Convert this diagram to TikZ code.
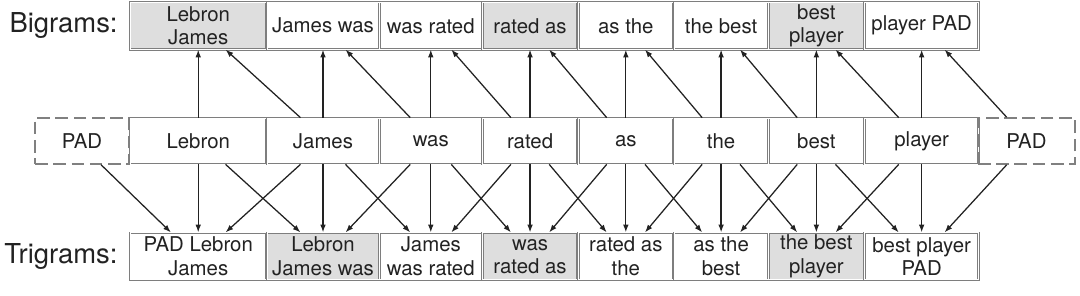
\documentclass[tikz,border=0pt]{standalone}
\usepackage{fontspec}
\setmainfont{TeX Gyre Heros}
\usepackage{tikz}
\usetikzlibrary{arrows.meta,calc,positioning}
\definecolor{ink}{HTML}{222222}
\definecolor{rim}{HTML}{7E7E7E}
\definecolor{shade}{HTML}{DEDEDE}
\definecolor{padrim}{HTML}{808080}
\tikzset{
  gramlabel/.style={font=\fontsize{19.5}{22}\selectfont, text=ink, inner sep=0pt},
  wordbox/.style={
    draw=rim,
    double=white,
    double distance=0.7pt,
    line width=0.55pt,
    fill=white,
    minimum height=1.15cm,
    inner sep=1pt,
    align=center,
    text=ink,
    font=\fontsize{14.5}{16.5}\selectfont
  },
  grambox/.style={wordbox, minimum height=1.175cm},
  hitbox/.style={grambox, fill=shade},
  padbox/.style={
    draw=padrim,
    dash pattern=on 9pt off 4pt,
    line width=1.2pt,
    minimum height=1.15cm,
    inner sep=1pt,
    text=ink,
    font=\fontsize{14.5}{16.5}\selectfont
  },
  link/.style={-{Latex[length=5.5pt,width=4pt]}, line width=0.9pt, draw=ink}
}

\begin{document}
\begin{tikzpicture}
  \useasboundingbox (0,0) rectangle (27,-7.375);

  % middle row: the sentence with padding
  \node[padbox, minimum width=2.35cm] (m0) at (2.05,-3.525) {PAD};
  \node[wordbox, right=0pt of m0, minimum width=3.4cm] (m1) {Lebron};
  \node[wordbox, right=0pt of m1, minimum width=2.8cm] (m2) {James};
  \node[wordbox, right=0pt of m2, minimum width=2.55cm] (m3) {was};
  \node[wordbox, right=0pt of m3, minimum width=2.375cm] (m4) {rated};
  \node[wordbox, right=0pt of m4, minimum width=2.375cm] (m5) {as};
  \node[wordbox, right=0pt of m5, minimum width=2.35cm] (m6) {the};
  \node[wordbox, right=0pt of m6, minimum width=2.375cm] (m7) {best};
  \node[wordbox, right=0pt of m7, minimum width=2.85cm] (m8) {player};
  \node[padbox, right=-0.05cm of m8, minimum width=2.425cm] (m9) {PAD};

  % bigrams
  \node[hitbox, above=1.7cm of m1, minimum width=3.4cm] (b1) {Lebron\\James};
  \node[grambox, above=1.7cm of m2, minimum width=2.8cm] (b2) {James was};
  \node[grambox, above=1.7cm of m3, minimum width=2.55cm] (b3) {was rated};
  \node[hitbox, above=1.7cm of m4, minimum width=2.375cm] (b4) {rated as};
  \node[grambox, above=1.7cm of m5, minimum width=2.375cm] (b5) {as the};
  \node[grambox, above=1.7cm of m6, minimum width=2.35cm] (b6) {the best};
  \node[hitbox, above=1.7cm of m7, minimum width=2.375cm] (b7) {best\\player};
  \node[grambox, above=1.7cm of m8, minimum width=2.85cm] (b8) {player PAD};

  % trigrams
  \node[grambox, below=1.7cm of m1, minimum width=3.4cm] (t1) {PAD Lebron\\James};
  \node[hitbox, below=1.7cm of m2, minimum width=2.8cm] (t2) {Lebron\\James was};
  \node[grambox, below=1.7cm of m3, minimum width=2.55cm] (t3) {James\\was rated};
  \node[hitbox, below=1.7cm of m4, minimum width=2.375cm] (t4) {was\\rated as};
  \node[grambox, below=1.7cm of m5, minimum width=2.375cm] (t5) {rated as\\the};
  \node[grambox, below=1.7cm of m6, minimum width=2.35cm] (t6) {as the\\best};
  \node[hitbox, below=1.7cm of m7, minimum width=2.375cm] (t7) {the best\\player};
  \node[grambox, below=1.7cm of m8, minimum width=2.85cm] (t8) {best player\\PAD};

  \node[gramlabel, left=0.3cm of b1] (biglabel) {Bigrams:};
  \node[gramlabel, left=0.3cm of t1] (trilabel) {Trigrams:};

  % words up to bigrams
  \draw[link] (m1.north) -- (b1.south);
  \draw[link] (m2.north) -- (b2.south);
  \draw[link] (m3.north) -- (b3.south);
  \draw[link] (m4.north) -- (b4.south);
  \draw[link] (m5.north) -- (b5.south);
  \draw[link] (m6.north) -- (b6.south);
  \draw[link] (m7.north) -- (b7.south);
  \draw[link] (m8.north) -- (b8.south);

  \draw[link] ($(m2.north)!0.4!(m2.north west)$) -- ($(b1.south)!0.4!(b1.south east)$);
  \draw[link] ($(m3.north)!0.4!(m3.north west)$) -- ($(b2.south)!0.4!(b2.south east)$);
  \draw[link] ($(m4.north)!0.4!(m4.north west)$) -- ($(b3.south)!0.4!(b3.south east)$);
  \draw[link] ($(m5.north)!0.4!(m5.north west)$) -- ($(b4.south)!0.4!(b4.south east)$);
  \draw[link] ($(m6.north)!0.4!(m6.north west)$) -- ($(b5.south)!0.4!(b5.south east)$);
  \draw[link] ($(m7.north)!0.4!(m7.north west)$) -- ($(b6.south)!0.4!(b6.south east)$);
  \draw[link] ($(m8.north)!0.4!(m8.north west)$) -- ($(b7.south)!0.4!(b7.south east)$);
  \draw[link] ($(m9.north)!0.4!(m9.north west)$) -- ($(b8.south)!0.4!(b8.south east)$);

  % words down to trigrams
  \draw[link] (m1.south) -- (t1.north);
  \draw[link] (m2.south) -- (t2.north);
  \draw[link] (m3.south) -- (t3.north);
  \draw[link] (m4.south) -- (t4.north);
  \draw[link] (m5.south) -- (t5.north);
  \draw[link] (m6.south) -- (t6.north);
  \draw[link] (m7.south) -- (t7.north);
  \draw[link] (m8.south) -- (t8.north);

  \draw[link] ($(m0.south)!0.4!(m0.south east)$) -- ($(t1.north)!0.4!(t1.north west)$);
  \draw[link] ($(m1.south)!0.4!(m1.south east)$) -- ($(t2.north)!0.4!(t2.north west)$);
  \draw[link] ($(m2.south)!0.4!(m2.south east)$) -- ($(t3.north)!0.4!(t3.north west)$);
  \draw[link] ($(m3.south)!0.4!(m3.south east)$) -- ($(t4.north)!0.4!(t4.north west)$);
  \draw[link] ($(m4.south)!0.4!(m4.south east)$) -- ($(t5.north)!0.4!(t5.north west)$);
  \draw[link] ($(m5.south)!0.4!(m5.south east)$) -- ($(t6.north)!0.4!(t6.north west)$);
  \draw[link] ($(m6.south)!0.4!(m6.south east)$) -- ($(t7.north)!0.4!(t7.north west)$);
  \draw[link] ($(m7.south)!0.4!(m7.south east)$) -- ($(t8.north)!0.4!(t8.north west)$);

  \draw[link] ($(m2.south)!0.4!(m2.south west)$) -- ($(t1.north)!0.4!(t1.north east)$);
  \draw[link] ($(m3.south)!0.4!(m3.south west)$) -- ($(t2.north)!0.4!(t2.north east)$);
  \draw[link] ($(m4.south)!0.4!(m4.south west)$) -- ($(t3.north)!0.4!(t3.north east)$);
  \draw[link] ($(m5.south)!0.4!(m5.south west)$) -- ($(t4.north)!0.4!(t4.north east)$);
  \draw[link] ($(m6.south)!0.4!(m6.south west)$) -- ($(t5.north)!0.4!(t5.north east)$);
  \draw[link] ($(m7.south)!0.4!(m7.south west)$) -- ($(t6.north)!0.4!(t6.north east)$);
  \draw[link] ($(m8.south)!0.4!(m8.south west)$) -- ($(t7.north)!0.4!(t7.north east)$);
  \draw[link] ($(m9.south)!0.4!(m9.south west)$) -- ($(t8.north)!0.4!(t8.north east)$);
\end{tikzpicture}
\end{document}
